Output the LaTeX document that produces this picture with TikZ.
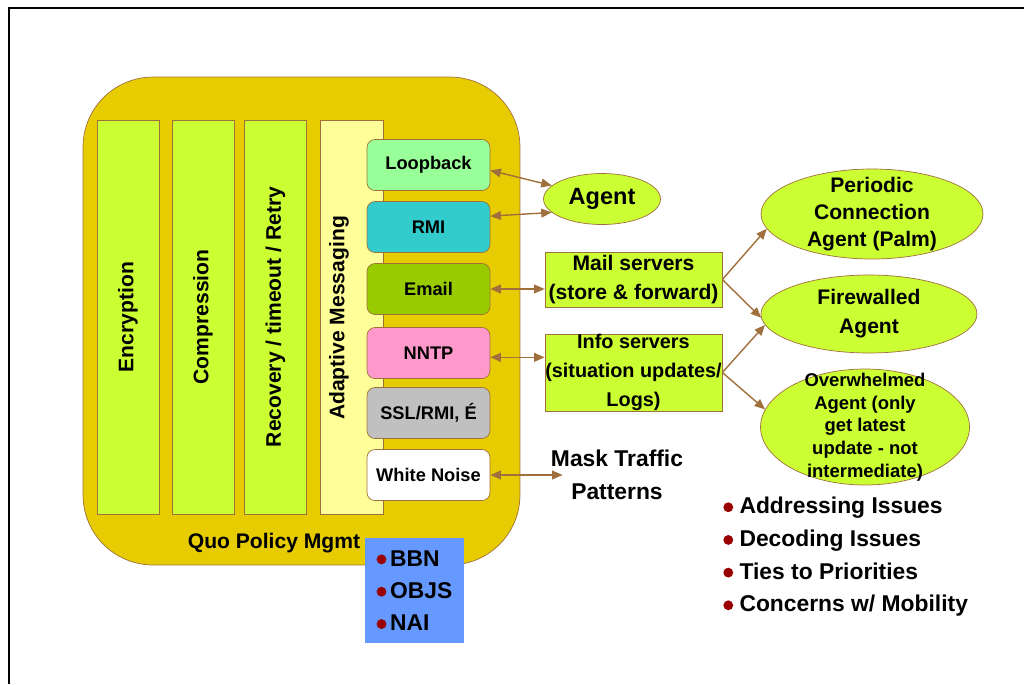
\documentclass[tikz,border=0pt]{standalone}
\usepackage{fontspec}
\setmainfont{Liberation Sans}
\usetikzlibrary{shapes.geometric,arrows.meta}
\definecolor{quogold}{HTML}{E6CC00}
\definecolor{edgebrown}{HTML}{A0703C}
\definecolor{lime}{HTML}{CCFF33}
\definecolor{paleyel}{HTML}{FFFF99}
\definecolor{loopgreen}{HTML}{99FF99}
\definecolor{rmicyan}{HTML}{33CCCC}
\definecolor{mailolive}{HTML}{99CC00}
\definecolor{nntppink}{HTML}{FF99CC}
\definecolor{sslgrey}{HTML}{C0C0C0}
\definecolor{partblue}{HTML}{6699FF}
\definecolor{bulred}{HTML}{990000}
\newcommand{\qbul}{\tikz[baseline=-0.55ex]\fill[bulred] (0,0) circle (2.8pt);}
\tikzset{
  col/.style={draw=edgebrown, fill=lime, rotate=90, minimum width=7.88cm, minimum height=1.24cm, font=\fontsize{12}{14}\selectfont\bfseries},
  proto/.style={draw=edgebrown, rounded corners=0.16cm, minimum width=2.46cm, minimum height=1.02cm, font=\fontsize{10.4}{12}\selectfont\bfseries},
  srv/.style={draw=edgebrown, fill=lime, minimum width=3.54cm, align=center, inner sep=0pt, font=\fontsize{12}{16.7}\selectfont\bfseries},
  oval/.style={ellipse, draw=edgebrown, fill=lime, inner sep=0pt},
  ovaltext/.style={align=center, font=\fontsize{12}{15.6}\selectfont\bfseries},
  bigtext/.style={align=left, inner sep=0pt, font=\fontsize{13}{18.6}\selectfont\bfseries},
  link/.style={draw=edgebrown, line width=0.8pt, <->},
  feed/.style={draw=edgebrown, line width=0.8pt, ->},
}
\begin{document}
\begin{tikzpicture}[x=0.02cm, y=-0.02cm, >={Triangle[length=6pt,width=5pt]}]
\useasboundingbox (0,0) rectangle (1024,684);
\draw[line width=1.1pt] (9,684) -- (9,8) -- (1024,8);

% QoS container and its layers
\node[draw=edgebrown, fill=quogold, rounded corners=1.4cm, minimum width=8.74cm, minimum height=9.76cm] (quo) at (301.5,321) {};
\node[font=\fontsize{12}{14}\selectfont\bfseries] (quolbl) at (274,543) {Quo Policy Mgmt};
\node[col] (enc) at (128,317) {Encryption};
\node[col] (comp) at (203,317) {Compression};
\node[col] (recov) at (275.5,317) {Recovery / timeout / Retry};
\node[draw=edgebrown, fill=paleyel, minimum width=1.26cm, minimum height=7.88cm] (adapt) at (351.5,317) {};
\node[rotate=90, font=\fontsize{12}{14}\selectfont\bfseries] (adaptlbl) at (339,318) {Adaptive Messaging};

% transports
\node[proto, fill=loopgreen] (loop) at (428.5,165) {Loopback};
\node[proto, fill=rmicyan] (rmi) at (428.5,227) {RMI};
\node[proto, fill=mailolive] (email) at (428.5,289) {Email};
\node[proto, fill=nntppink] (nntp) at (428.5,353) {NNTP};
\node[proto, fill=sslgrey] (ssl) at (428.5,413) {SSL/RMI, É};
\node[proto, fill=white] (wn) at (428.5,475) {White Noise};

\node[draw=none, fill=partblue, minimum width=1.98cm, minimum height=2.1cm, align=left, inner sep=0pt, font=\fontsize{13}{18.4}\selectfont\bfseries] (part) at (414.5,590.5) {\qbul\,BBN\\ \qbul\,OBJS\\ \qbul\,NAI};

% peers
\node[oval, minimum width=2.34cm, minimum height=1.02cm, font=\fontsize{13.4}{16}\selectfont\bfseries] (agent) at (602,199) {Agent};
\node[srv, minimum height=1.1cm] (mail) at (633.5,279.5) {Mail servers\\(store \& forward)};
\node[srv, minimum height=1.54cm, font=\fontsize{11.3}{16.7}\selectfont\bfseries] (info) at (633.5,372.5) {Info servers\\(situation updates/\\Logs)};
\node[bigtext, align=center] (mask) at (617,475) {Mask Traffic\\Patterns};

\node[oval, minimum width=4.44cm, minimum height=1.8cm] (per) at (872,214) {};
\node[ovaltext] (pertxt) at (per.center) {Periodic\\Connection\\Agent (Palm)};
\node[oval, minimum width=4.32cm, minimum height=1.56cm] (fw) at (869,314) {};
\node[ovaltext, font=\fontsize{12}{16.5}\selectfont\bfseries] (fwtxt) at (fw.center) {Firewalled\\Agent};
\node[oval, minimum width=4.18cm, minimum height=2.32cm] (ovw) at (865,427) {};
\node[ovaltext, font=\fontsize{10.5}{12.9}\selectfont\bfseries] (ovwtxt) at (ovw.center) {Overwhelmed\\Agent (only\\get latest\\update - not\\intermediate)};

\node[bigtext, anchor=west] (issues) at (723,557) {\qbul\ Addressing Issues\\ \qbul\ Decoding Issues\\ \qbul\ Ties to Priorities\\ \qbul\ Concerns w/ Mobility};

% connectors
\draw[link] (loop.-5) -- (agent.165);
\draw[link] (rmi.10) -- (agent.195);
\draw[link] (email.east) -- (email.east -| mail.west);
\draw[link] (nntp.-4) -- (nntp.-4 -| info.west);
\draw[link] (wn.east) -- ([xshift=0.24cm]wn.east -| mask.west);
\draw[feed] (mail.east) -- (per.188);
\draw[feed] (mail.east) -- (fw.182);
\draw[feed] (info.east) -- (fw.186);
\draw[feed] (info.east) -- (ovw.170);
\end{tikzpicture}
\end{document}
